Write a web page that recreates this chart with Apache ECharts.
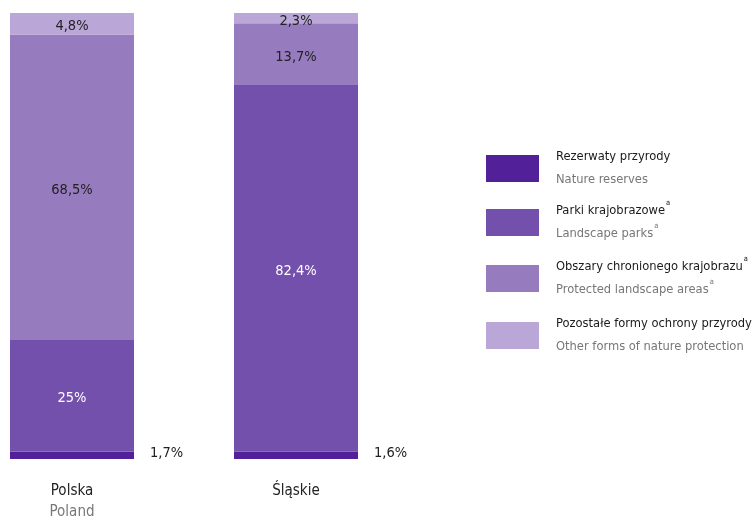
<!DOCTYPE html>
<html><head><meta charset="utf-8">
<script src="https://cdn.jsdelivr.net/npm/echarts@6/dist/echarts.min.js"></script>
<style>html,body{margin:0;padding:0;background:#fff}#c{width:756px;height:520px}</style>
</head><body><div id="c"></div>
<script>
const categories = ['Polska', 'Śląskie'];
const categoriesEn = ['Poland', ''];
const seriesNames = ['Rezerwaty przyrody', 'Parki krajobrazowe', 'Obszary chronionego krajobrazu', 'Pozostałe formy ochrony przyrody'];
const seriesNamesEn = ['Nature reserves', 'Landscape parks', 'Protected landscape areas', 'Other forms of nature protection'];
const seriesSup = [false, true, true, false];
const reserves = [1.7, 1.6];
const landscapeParks = [25, 82.4];
const protectedAreas = [68.5, 13.7];
const otherForms = [4.8, 2.3];
const colors = ['#52219a', '#7450ad', '#977bbf', '#bba7d7'];
const labelColors = [['#222', '#222'], ['#fff', '#fff'], ['#222', '#222'], ['#222', '#222']];

const FONT = "'Liberation Sans Narrow','DejaVu Sans Condensed','Noto Sans',sans-serif";
const fmt = v => String(v).replace('.', ',') + '%';
const values = [reserves, landscapeParks, protectedAreas, otherForms];

const series = values.map((vals, i) => ({
  name: seriesNames[i],
  type: 'bar',
  stack: 'total',
  barWidth: 124,
  clip: false,
  itemStyle: { color: colors[i] },
  data: vals.map((v, j) => ({
    value: v,
    label: i === 0 ? {
      show: true, position: 'right', distance: 16, offset: [0, -2],
      color: '#222', fontFamily: FONT, fontSize: 14.5, formatter: p => fmt(p.value)
    } : {
      show: true, position: 'inside', offset: [0, 3], color: labelColors[i][j],
      fontFamily: FONT, fontSize: 14.5, formatter: p => fmt(p.value)
    }
  }))
}));

const legendTops = [145.5, 194.5, 250.5, 312.5];
const legends = seriesNames.map((n, k) => ({
  orient: 'vertical', left: 481, top: legendTops[k],
  itemWidth: 53, itemHeight: 27,
  icon: 'rect', selectedMode: false,
  data: [n],
  formatter: name => {
    const i = seriesNames.indexOf(name);
    const s = seriesSup[i] ? '{s|a}' : '';
    return '{a|' + name + '}' + s + '\n{b|' + seriesNamesEn[i] + '}' + s.replace('{s|', '{t|');
  },
  textStyle: {
    padding: [0, 0, 0, 12],
    rich: {
      a: { fontFamily: FONT, fontSize: 12.8, color: '#1a1a1a', lineHeight: 23 },
      b: { fontFamily: FONT, fontSize: 12.8, color: '#777', lineHeight: 23 },
      s: { fontFamily: FONT, fontSize: 7.5, color: '#1a1a1a', verticalAlign: 'top', lineHeight: 23, padding: [0, 0, 3, 1] },
      t: { fontFamily: FONT, fontSize: 7.5, color: '#777', verticalAlign: 'top', lineHeight: 23, padding: [0, 0, 3, 1] }
    }
  }
}));

const chart = echarts.init(document.getElementById('c'), null, { renderer: 'canvas' });
chart.setOption({
  animation: false,
  grid: { left: 72, width: 224, top: 13, bottom: 57 },
  xAxis: {
    type: 'category', data: categories, boundaryGap: false,
    axisLine: { show: false }, axisTick: { show: false }, splitLine: { show: false },
    axisLabel: {
      margin: 22, interval: 0,
      formatter: (v, i) => categoriesEn[i] ? '{a|' + v + '}\n{b|' + categoriesEn[i] + '}' : '{a|' + v + '}',
      rich: {
        a: { fontFamily: FONT, fontSize: 15, color: '#222', lineHeight: 21 },
        b: { fontFamily: FONT, fontSize: 15, color: '#777', lineHeight: 21 }
      }
    }
  },
  yAxis: { type: 'value', min: 0, max: 100, show: false, splitLine: { show: false } },
  legend: legends,
  series
});
</script></body></html>
